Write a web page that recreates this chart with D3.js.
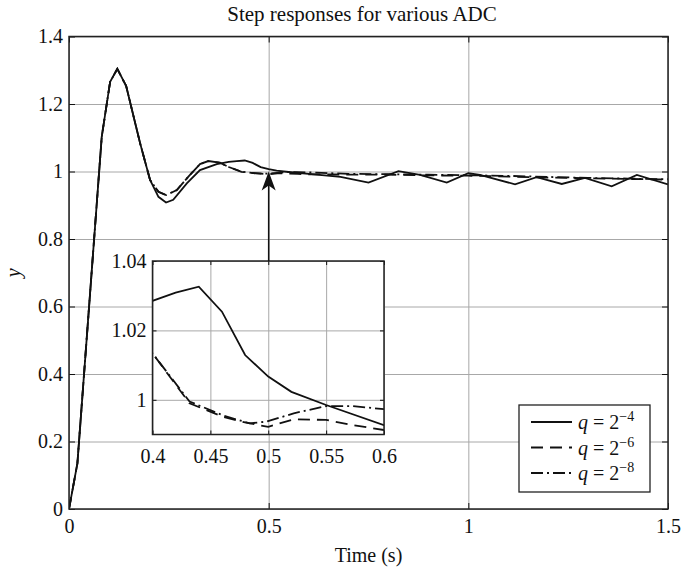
<!DOCTYPE html>
<html>
<head>
<meta charset="utf-8">
<script src="https://cdn.jsdelivr.net/npm/d3@7"></script>
<style>
  body { margin: 0; background: white; }
  text { font-family: "Liberation Serif", "DejaVu Serif", serif; fill: #111; }
</style>
</head>
<body>
<div id="chart"></div>
<script>
// q = 2^-4
var tA = [0, 0.021, 0.082, 0.103, 0.121, 0.143, 0.178, 0.203, 0.224, 0.243, 0.261, 0.295, 0.328, 0.37,
          0.4, 0.42, 0.44, 0.46, 0.48, 0.5, 0.52, 0.55, 0.6, 0.68, 0.75, 0.825, 0.879, 0.946, 1.0, 1.029,
          1.117, 1.171, 1.234, 1.292, 1.359, 1.422, 1.5]
var yA = [0, 0.135, 1.103, 1.266, 1.304, 1.254, 1.084, 0.975, 0.925, 0.908, 0.916, 0.965, 1.004, 1.022,
          1.0285, 1.0309, 1.0326, 1.0254, 1.0129, 1.0067, 1.0023, 0.9985, 0.9927, 0.984, 0.967, 1.001, 0.99, 0.967, 0.995, 0.99,
          0.962, 0.983, 0.963, 0.981, 0.956, 0.99, 0.962]
// q = 2^-6
var tB = [0, 0.021, 0.082, 0.103, 0.121, 0.143, 0.178, 0.203, 0.224, 0.243, 0.27, 0.299, 0.328, 0.349, 0.378,
          0.4, 0.432, 0.461, 0.481, 0.5, 0.522, 0.55, 0.573, 0.6, 0.7, 0.8, 0.9, 1.0, 1.1, 1.2, 1.3, 1.4, 1.5]
var yB = [0, 0.135, 1.103, 1.266, 1.304, 1.254, 1.084, 0.975, 0.94, 0.93, 0.945, 0.985, 1.022, 1.031, 1.026,
          1.0134, 0.999, 0.9951, 0.9934, 0.9922, 0.9944, 0.9942, 0.9927, 0.9913, 0.991, 0.9905, 0.9885, 0.9875, 0.985, 0.982, 0.98, 0.978, 0.976]
// q = 2^-8
var tC = [0, 0.021, 0.082, 0.103, 0.121, 0.143, 0.178, 0.203, 0.224, 0.243, 0.27, 0.299, 0.328, 0.349, 0.378,
          0.4, 0.432, 0.461, 0.484, 0.4985, 0.522, 0.55, 0.573, 0.6, 0.7, 0.8, 0.9, 1.0, 1.1, 1.2, 1.3, 1.4, 1.5]
var yC = [0, 0.135, 1.103, 1.266, 1.304, 1.254, 1.084, 0.975, 0.94, 0.93, 0.945, 0.985, 1.022, 1.031, 1.026,
          1.0134, 0.9995, 0.9955, 0.9932, 0.9937, 0.9961, 0.9982, 0.9982, 0.9973, 0.993, 0.992, 0.9905, 0.989, 0.987, 0.984, 0.981, 0.979, 0.977]

var xTicks = [0, 0.5, 1, 1.5]
var yTicks = [0, 0.2, 0.4, 0.6, 0.8, 1, 1.2, 1.4]
var insetXTicks = [0.4, 0.45, 0.5, 0.55, 0.6]
var insetYTicks = [1, 1.02, 1.04]
var legendLabels = ["\u22124", "\u22126", "\u22128"]

var dashes = [null, "12,7", "12,4,2,4"]

var series = [tA, tB, tC].map(function (t, i) {
    var ys = [yA, yB, yC][i]
    return t.map(function (d, j) { return {t: d, y: ys[j]} })
})

var margin = {top: 36.5, right: 14, bottom: 62, left: 69},
    width = 682 - margin.left - margin.right,
    height = 571 - margin.top - margin.bottom;

var svg = d3.select("#chart")
    .append("svg")
    .attr("width", 682)
    .attr("height", 571)

var g = svg.append("g")
    .attr("transform", "translate(" + margin.left + "," + margin.top + ")")

var x = d3.scaleLinear().domain([0, 1.5]).range([0, width])
var y = d3.scaleLinear().domain([0, 1.4]).range([height, 0])
var fmt = d3.format("~g")

// grid
g.append("g")
    .attr("transform", "translate(0," + height + ")")
    .call(d3.axisBottom(x).tickValues(xTicks).tickSize(-height).tickFormat(""))
    .call(function (s) { s.select(".domain").remove(); s.selectAll("line").attr("stroke", "#a8a8a8") })
g.append("g")
    .call(d3.axisLeft(y).tickValues(yTicks).tickSize(-width).tickFormat(""))
    .call(function (s) { s.select(".domain").remove(); s.selectAll("line").attr("stroke", "#a8a8a8") })

// axes with inner ticks
function styleAxis(s) {
    s.select(".domain").remove()
    s.selectAll("line").attr("stroke", "#111")
    s.selectAll("text").style("font-size", "20px").style("font-family", "Liberation Serif").attr("fill", "#111")
}
g.append("g")
    .attr("transform", "translate(0," + height + ")")
    .call(d3.axisBottom(x).tickValues(xTicks).tickSizeInner(-6).tickSizeOuter(0).tickPadding(10).tickFormat(fmt))
    .call(styleAxis)
g.append("g")
    .call(d3.axisTop(x).tickValues(xTicks).tickSizeInner(-6).tickSizeOuter(0).tickFormat(""))
    .call(styleAxis)
g.append("g")
    .call(d3.axisLeft(y).tickValues(yTicks).tickSizeInner(-6).tickSizeOuter(0).tickPadding(6).tickFormat(fmt))
    .call(styleAxis)
g.append("g")
    .attr("transform", "translate(" + width + ",0)")
    .call(d3.axisRight(y).tickValues(yTicks).tickSizeInner(-6).tickSizeOuter(0).tickFormat(""))
    .call(styleAxis)

svg.append("defs").append("clipPath").attr("id", "mainClip")
    .append("rect").attr("width", width).attr("height", height)

var line = d3.line().x(function (d) { return x(d.t) }).y(function (d) { return y(d.y) })

g.append("g").attr("clip-path", "url(#mainClip)")
    .selectAll("path")
    .data(series)
    .enter().append("path")
    .attr("d", line)
    .attr("fill", "none")
    .attr("stroke", "#111")
    .attr("stroke-width", 1.8)
    .attr("stroke-dasharray", function (d, i) { return dashes[i] })

g.append("rect")
    .attr("width", width).attr("height", height)
    .attr("fill", "none").attr("stroke", "#222").attr("stroke-width", 1.5)

// title and labels
svg.append("text")
    .attr("x", 362).attr("y", 21)
    .attr("text-anchor", "middle")
    .style("font-size", "21px")
    .text("Step responses for various ADC")
svg.append("text")
    .attr("x", margin.left + width / 2).attr("y", 562)
    .attr("text-anchor", "middle")
    .style("font-size", "20px")
    .text("Time (s)")
svg.append("text")
    .attr("transform", "translate(20," + (margin.top + height / 2) + ") rotate(-90)")
    .attr("text-anchor", "middle")
    .style("font-size", "20px")
    .style("font-style", "italic")
    .text("y")

// inset
var inset = {left: 152.5, top: 261, width: 231.5, height: 173.5}
var xi = d3.scaleLinear().domain([0.4, 0.6]).range([0, inset.width])
var yi = d3.scaleLinear().domain([0.99, 1.04]).range([inset.height, 0])

var ig = svg.append("g")
    .attr("transform", "translate(" + inset.left + "," + inset.top + ")")

ig.append("rect").attr("width", inset.width).attr("height", inset.height).attr("fill", "white")

ig.append("g")
    .attr("transform", "translate(0," + inset.height + ")")
    .call(d3.axisBottom(xi).tickValues(insetXTicks).tickSize(-inset.height).tickFormat(""))
    .call(function (s) { s.select(".domain").remove(); s.selectAll("line").attr("stroke", "#a8a8a8") })
ig.append("g")
    .call(d3.axisLeft(yi).tickValues(insetYTicks).tickSize(-inset.width).tickFormat(""))
    .call(function (s) { s.select(".domain").remove(); s.selectAll("line").attr("stroke", "#a8a8a8") })

ig.append("g")
    .attr("transform", "translate(0," + inset.height + ")")
    .call(d3.axisBottom(xi).tickValues(insetXTicks).tickSizeInner(-4).tickSizeOuter(0).tickPadding(14).tickFormat(fmt))
    .call(styleAxis)
ig.append("g")
    .call(d3.axisTop(xi).tickValues(insetXTicks).tickSizeInner(-4).tickSizeOuter(0).tickFormat(""))
    .call(styleAxis)
ig.append("g")
    .call(d3.axisLeft(yi).tickValues(insetYTicks).tickSizeInner(-4).tickSizeOuter(0).tickPadding(6).tickFormat(fmt))
    .call(styleAxis)
ig.append("g")
    .attr("transform", "translate(" + inset.width + ",0)")
    .call(d3.axisRight(yi).tickValues(insetYTicks).tickSizeInner(-4).tickSizeOuter(0).tickFormat(""))
    .call(styleAxis)

svg.select("defs").append("clipPath").attr("id", "insetClip")
    .append("rect").attr("width", inset.width).attr("height", inset.height)

var iline = d3.line().x(function (d) { return xi(d.t) }).y(function (d) { return yi(d.y) })

ig.append("g").attr("clip-path", "url(#insetClip)")
    .selectAll("path")
    .data(series)
    .enter().append("path")
    .attr("d", iline)
    .attr("fill", "none")
    .attr("stroke", "#111")
    .attr("stroke-width", 1.8)
    .attr("stroke-dasharray", function (d, i) { return dashes[i] })

ig.append("rect")
    .attr("width", inset.width).attr("height", inset.height)
    .attr("fill", "none").attr("stroke", "#222").attr("stroke-width", 1.5)

// arrow from inset to the zoomed region
var ax = margin.left + x(0.5), tipY = margin.top + y(1)
svg.append("line")
    .attr("x1", ax).attr("x2", ax)
    .attr("y1", inset.top).attr("y2", tipY + 12)
    .attr("stroke", "#111").attr("stroke-width", 1.5)
svg.append("path")
    .attr("d", "M" + ax + "," + tipY + "L" + (ax - 7) + "," + (tipY + 19) + "L" + ax + "," + (tipY + 14) + "L" + (ax + 7) + "," + (tipY + 19) + "Z")
    .attr("fill", "#111")

// legend
var lg = svg.append("g").attr("transform", "translate(519,405)")
lg.append("rect").attr("width", 131).attr("height", 87)
    .attr("fill", "white").attr("stroke", "#222").attr("stroke-width", 1.3)

var rows = lg.selectAll(".row")
    .data(legendLabels)
    .enter().append("g")
    .attr("class", "row")
    .attr("transform", function (d, i) { return "translate(0," + (17 + i * 25.5) + ")" })

rows.append("line")
    .attr("x1", 12).attr("x2", 53)
    .attr("stroke", "#111").attr("stroke-width", 1.8)
    .attr("stroke-dasharray", function (d, i) { return dashes[i] })

var lt = rows.append("text")
    .attr("x", 59).attr("y", 7)
    .style("font-size", "20px")
lt.append("tspan").style("font-style", "italic").text("q")
lt.append("tspan").text(" = 2")
lt.append("tspan").attr("dy", -8).style("font-size", "14px").text(function (d) { return d })
</script>
</body>
</html>
